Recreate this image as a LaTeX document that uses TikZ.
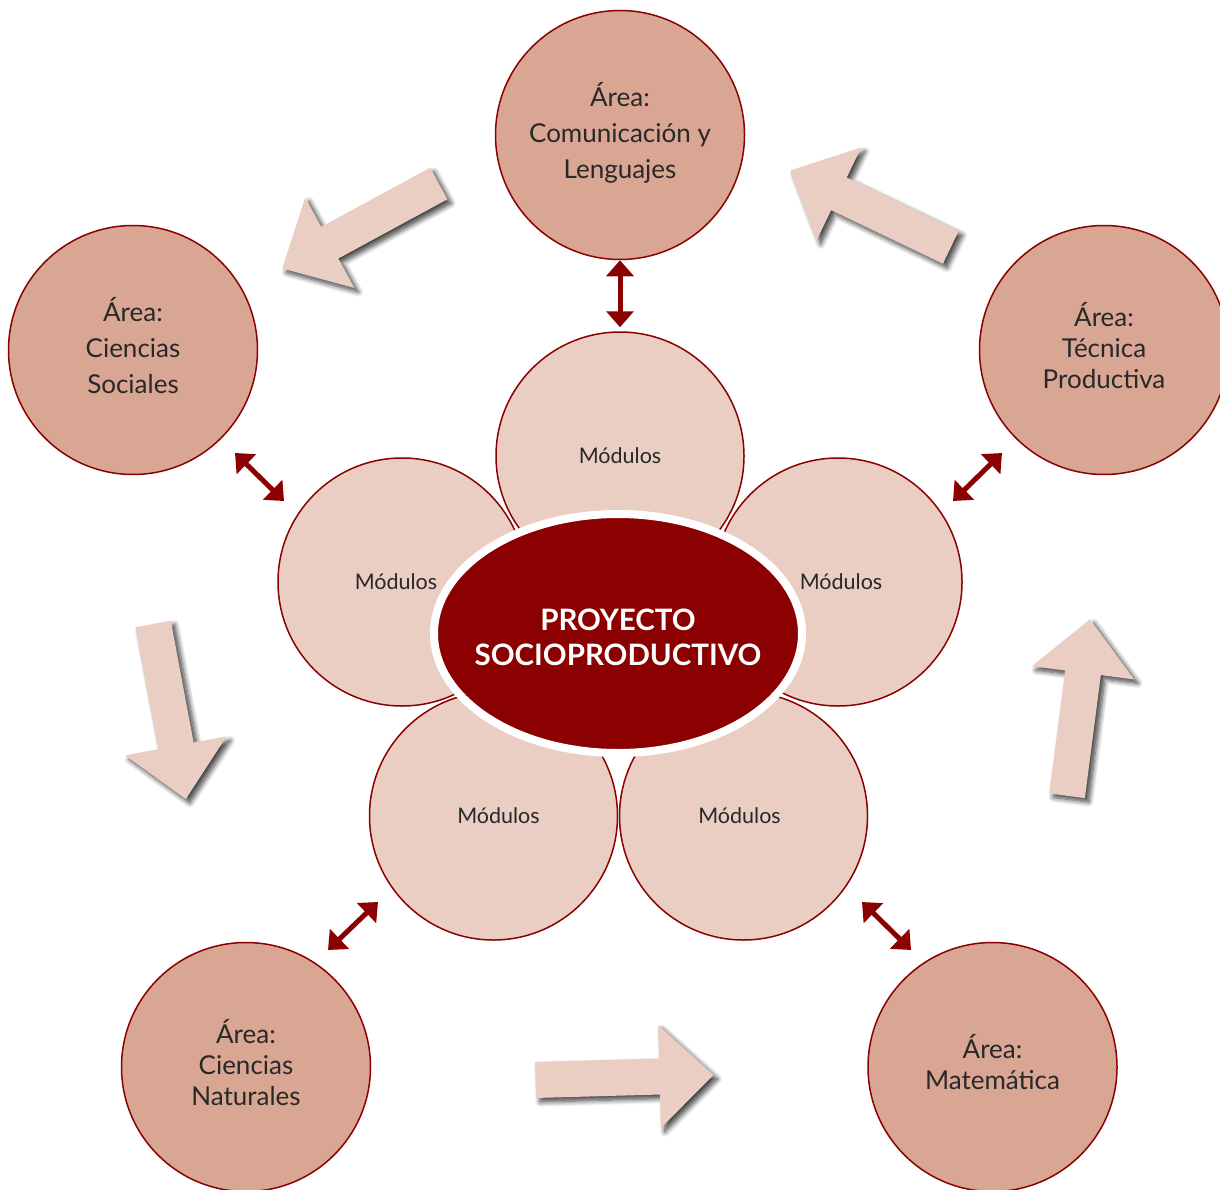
\documentclass[tikz,border=0pt]{standalone}
\usepackage{fontspec}
\setmainfont{Lato}
\usetikzlibrary{arrows.meta}
\usetikzlibrary{shapes.geometric}
\usetikzlibrary{shadows.blur}

\definecolor{darkred}{RGB}{139,0,0}
\definecolor{areafill}{RGB}{217,166,148}
\definecolor{modfill}{RGB}{235,206,195}
\definecolor{ink}{RGB}{40,40,40}

% area text, lifted a little inside its circle
\newcommand\arealines[2]{\raisebox{#1}{\begin{tabular}{@{}c@{}}#2\end{tabular}}}

\tikzset{
  area/.style={circle, draw=darkred, line width=1.5pt, fill=areafill,
    minimum size=249pt, inner sep=0pt, align=center, text=ink,
    font=\fontsize{26}{36}\selectfont},
  tightarea/.style={area, font=\fontsize{26}{31}\selectfont},
  modulo/.style={circle, draw=darkred, line width=1.5pt, fill=modfill,
    minimum size=248pt, inner sep=0pt, text=ink, font=\fontsize{21.5}{24}\selectfont},
  proyecto/.style={ellipse, draw=white, line width=8pt, fill=darkred,
    minimum width=368pt, minimum height=239pt, inner sep=0pt, align=center,
    text=white, font=\bfseries\fontsize{29.5}{35}\selectfont},
  linkarrow/.style={draw=darkred, line width=5pt,
    {Triangle[width=27pt,length=16pt]}-{Triangle[width=27pt,length=16pt]}},
  flowarrow/.style={fill=modfill, blur shadow={shadow xshift=4pt,
    shadow yshift=-4pt, shadow blur steps=8, shadow blur radius=5pt,
    shadow opacity=75}}
}

\begin{document}
\begin{tikzpicture}[x=1pt, y=-1pt]
  \useasboundingbox (0,0) rectangle (1220,1190);

  % block arrows round the cycle: centre x / centre y / direction
  \foreach \cx/\cy/\ang in {360.5/226/208.5, 870.5/209/154.4, 169.5/711.5/-79.4,
                            624.5/1077.5/1.6, 1078.5/707.5/82.6}
    \fill[flowarrow, shift={(\cx,\cy)}, rotate=\ang]
      (-89,-18) -- (35,-18) -- (35,-51.5) -- (89,0) -- (35,51.5) -- (35,18) -- (-89,18) -- cycle;

  % areas
  \node[area] (aCom) at (620,135) {\arealines{4pt}{Área:\\Comunicación y\\Lenguajes}};
  \node[area] (aSoc) at (133,350) {\arealines{12pt}{Área:\\Ciencias\\Sociales}};
  \node[tightarea] (aTec) at (1104,350) {\arealines{6pt}{Área:\\Técnica\\Productiva}};
  \node[tightarea] (aNat) at (246,1067) {\arealines{6pt}{Área:\\Ciencias\\Naturales}};
  \node[tightarea] (aMat) at (992.5,1067) {\arealines{3pt}{Área:\\Matemática}};

  % modules
  \node[modulo] (mTop) at (620,456) {Módulos};
  \node[modulo] (mLeft) at (402,582) {\hspace*{-12pt}Módulos};
  \node[modulo] (mRight) at (838,582) {\hspace*{6pt}Módulos};
  \node[modulo] (mBotL) at (493.5,816) {\hspace*{10pt}Módulos};
  \node[modulo] (mBotR) at (743.5,816) {\hspace*{-8pt}Módulos};

  \node[proyecto] (proy) at (618,633.5)
    {\makebox[0pt]{\raisebox{-14pt}[0pt][0pt]{\begin{tabular}{@{}c@{}}PROYECTO\\SOCIOPRODUCTIVO\end{tabular}}}};

  % links between areas and modules
  \coordinate (sSoc) at (235,453);  \coordinate (sLeft) at (284,501);
  \coordinate (sTec) at (1002,453); \coordinate (sRight) at (953,501);
  \coordinate (sBotL) at (378,902); \coordinate (sNat) at (328,950);
  \coordinate (sBotR) at (862,902); \coordinate (sMat) at (911,950);
  \draw[linkarrow, shorten >=4pt] (aCom) -- (mTop);
  \draw[linkarrow] (sSoc) -- (sLeft);
  \draw[linkarrow] (sTec) -- (sRight);
  \draw[linkarrow] (sBotL) -- (sNat);
  \draw[linkarrow] (sBotR) -- (sMat);
\end{tikzpicture}
\end{document}
